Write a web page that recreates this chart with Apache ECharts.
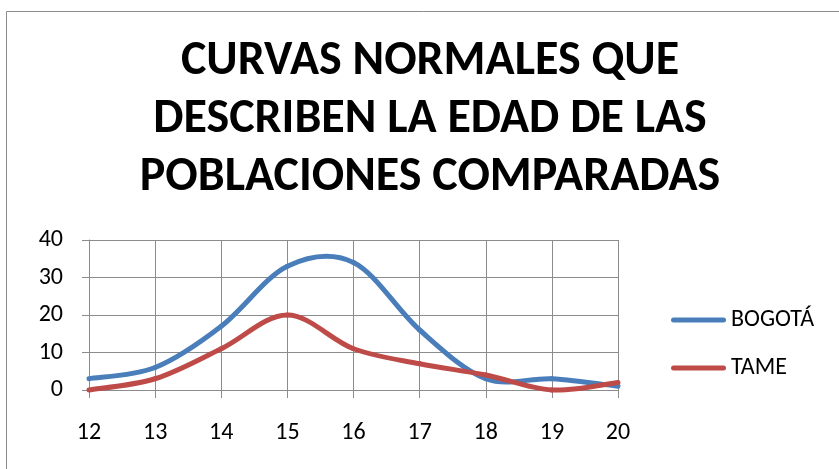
<!DOCTYPE html>
<html><head><meta charset="utf-8">
<script src="https://cdn.jsdelivr.net/npm/echarts@6/dist/echarts.min.js"></script>
<style>html,body{margin:0;padding:0;background:#fff}#c{width:839px;height:469px}</style>
</head><body><div id="c"></div>
<script>
const ages = [12, 13, 14, 15, 16, 17, 18, 19, 20];
const bogota = [3, 6, 17, 33, 34, 16, 3, 3, 1];
const tame = [0, 3, 11, 20, 11, 7, 4, 0, 2];
const titleLines = ['CURVAS NORMALES QUE', 'DESCRIBEN LA EDAD DE LAS', 'POBLACIONES COMPARADAS'];
const seriesNames = ['BOGOTÁ', 'TAME'];
const seriesColors = ['#4a7ebb', '#be4b48'];

const chart = echarts.init(document.getElementById('c'));
const font = 'Carlito, Lato, sans-serif';
const axisLabel = {color: '#000', fontSize: 24, fontFamily: font};

// Smooth curve (Catmull-Rom style, like a spreadsheet's smoothed line) through the data points,
// positioned with the chart's own coordinate system via api.coord.
function smoothRenderer(values, color) {
  return function (params, api) {
    const i = params.dataIndex;
    if (i >= ages.length - 1) return null;
    const P = k => {
      const kk = Math.max(0, Math.min(ages.length - 1, k));
      return api.coord([ages[kk], values[kk]]);
    };
    const p0 = P(i - 1), p1 = P(i), p2 = P(i + 1), p3 = P(i + 2);
    return {
      type: 'bezierCurve',
      shape: {
        x1: p1[0], y1: p1[1], x2: p2[0], y2: p2[1],
        cpx1: p1[0] + (p2[0] - p0[0]) / 6, cpy1: p1[1] + (p2[1] - p0[1]) / 6,
        cpx2: p2[0] - (p3[0] - p1[0]) / 6, cpy2: p2[1] - (p3[1] - p1[1]) / 6
      },
      style: {stroke: color, lineWidth: 5, fill: null, lineCap: 'round'}
    };
  };
}

chart.setOption({
  animation: false,
  graphic: [{type: 'rect', shape: {x: 6.5, y: 11.5, width: 900, height: 500}, style: {fill: 'none', stroke: '#8c8c8c', lineWidth: 1}}],
  title: {
    text: titleLines.join('\n'), left: 430, textAlign: 'center', top: 33, padding: 0,
    textStyle: {fontSize: 48, fontWeight: 'bold', fontFamily: font, lineHeight: 58, color: '#000'}
  },
  legend: {
    orient: 'vertical', left: 671, top: 308, itemGap: 24, itemWidth: 55, itemHeight: 24, padding: 0,
    icon: 'path://M2.5,0 L52.5,0 A2.5,2.5 0 0 1 52.5,5 L2.5,5 A2.5,2.5 0 0 1 2.5,0 Z',
    textStyle: {fontSize: 24, fontFamily: font, color: '#000', lineHeight: 24},
    data: seriesNames
  },
  grid: {left: 89, right: 221, top: 240, bottom: 79},
  xAxis: {
    type: 'value', min: 12, max: 20, interval: 1,
    axisLine: {show: true, lineStyle: {color: '#8c8c8c'}},
    axisTick: {show: true, length: 8, lineStyle: {color: '#8c8c8c'}},
    splitLine: {show: true, lineStyle: {color: '#8c8c8c', width: 1}},
    axisLabel: Object.assign({margin: 31}, axisLabel)
  },
  yAxis: {
    type: 'value', min: 0, max: 40, interval: 10,
    axisLine: {show: true, lineStyle: {color: '#8c8c8c'}},
    axisTick: {show: true, length: 7, lineStyle: {color: '#8c8c8c'}},
    splitLine: {show: true, lineStyle: {color: '#8c8c8c', width: 1}},
    axisLabel: Object.assign({margin: 26}, axisLabel)
  },
  series: [
    {name: seriesNames[0], type: 'custom', renderItem: smoothRenderer(bogota, seriesColors[0]),
     itemStyle: {color: seriesColors[0]}, encode: {x: 0, y: 1},
     data: ages.map((a, i) => [a, bogota[i]])},
    {name: seriesNames[1], type: 'custom', renderItem: smoothRenderer(tame, seriesColors[1]),
     itemStyle: {color: seriesColors[1]}, encode: {x: 0, y: 1},
     data: ages.map((a, i) => [a, tame[i]])}
  ]
});
</script></body></html>
